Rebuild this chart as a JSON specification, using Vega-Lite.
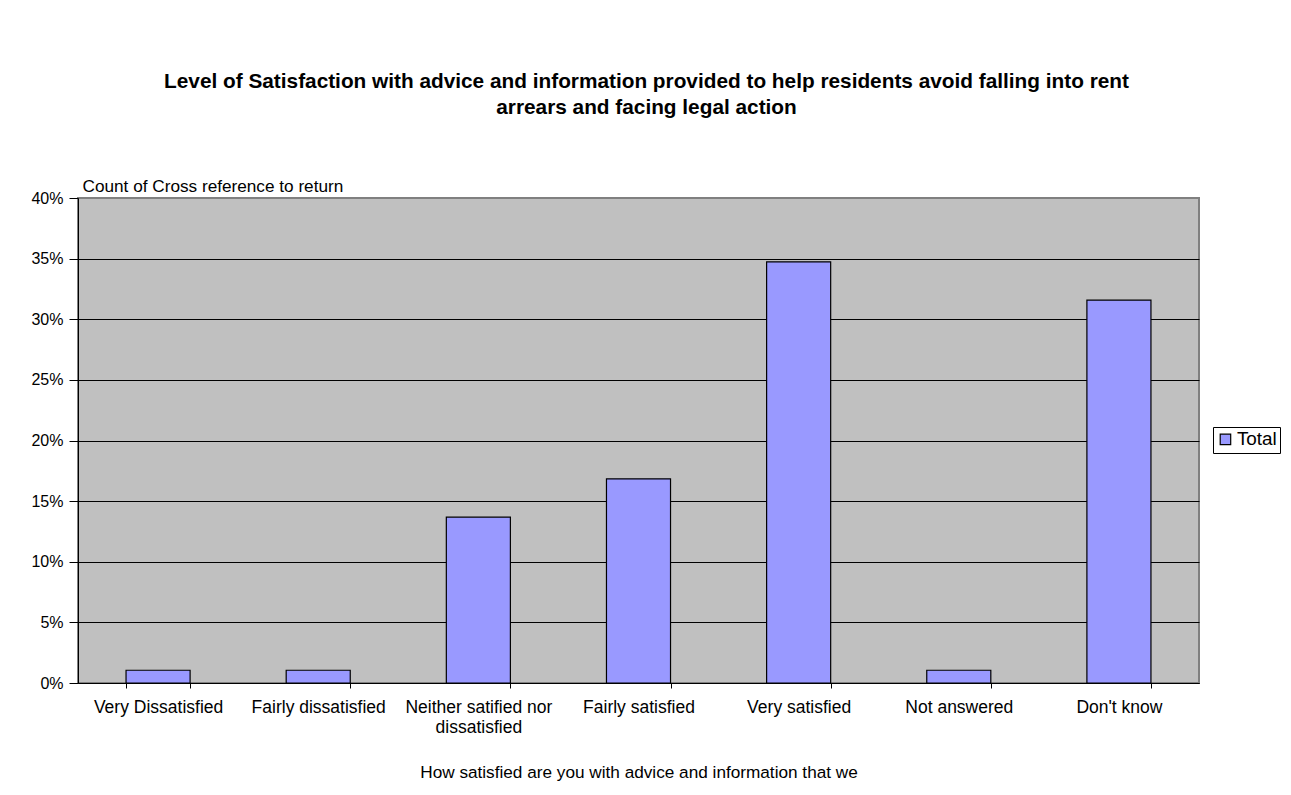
{
  "$schema": "https://vega.github.io/schema/vega-lite/v6.json",
  "width": 1121,
  "height": 485,
  "autosize": {"type": "none"},
  "padding": {"left": 78, "top": 198, "right": 92, "bottom": 112},
  "background": "white",
  "title": {
    "text": [
      "Level of Satisfaction with advice and information provided to help residents avoid falling into rent",
      "arrears and facing legal action"
    ],
    "anchor": "middle",
    "frame": "group",
    "font": "Liberation Sans",
    "fontSize": 20.8,
    "fontWeight": "bold",
    "color": "black",
    "lineHeight": 26,
    "offset": 58,
    "dx": 8
  },
  "data": {
    "values": [
      {"response": "Very Dissatisfied", "series": "Total", "share": 0.0105},
      {"response": "Fairly dissatisfied", "series": "Total", "share": 0.0105},
      {"response": "Neither satified nor dissatisfied", "series": "Total", "share": 0.1368},
      {"response": "Fairly satisfied", "series": "Total", "share": 0.1684},
      {"response": "Very satisfied", "series": "Total", "share": 0.3474},
      {"response": "Not answered", "series": "Total", "share": 0.0105},
      {"response": "Don't know", "series": "Total", "share": 0.3158}
    ]
  },
  "mark": {"type": "bar", "stroke": "black", "strokeWidth": 1.2},
  "encoding": {
    "x": {
      "field": "response",
      "type": "nominal",
      "sort": null,
      "scale": {"paddingInner": 0.6, "paddingOuter": 0.3},
      "axis": {
        "title": "How satisfied are you with advice and information that we",
        "titleFont": "Liberation Sans",
        "titleFontSize": 17.2,
        "titleFontWeight": "normal",
        "titleColor": "black",
        "titleY": 94,
        "titleBaseline": "alphabetic",
        "labelAngle": 0,
        "labelFont": "Liberation Sans",
        "labelFontSize": 17.5,
        "labelColor": "black",
        "labelPadding": 10,
        "labelLineHeight": 20,
        "labelLimit": 300,
        "labelExpr": "datum.label == 'Neither satified nor dissatisfied' ? ['Neither satified nor', 'dissatisfied'] : datum.label",
        "tickBand": "extent",
        "tickSize": 5,
        "tickColor": "black",
        "domainColor": "black",
        "grid": false
      }
    },
    "y": {
      "field": "share",
      "type": "quantitative",
      "scale": {"domain": [0, 0.4], "nice": false},
      "axis": {
        "title": "Count of Cross reference to return",
        "titleAngle": 0,
        "titleAlign": "left",
        "titleBaseline": "alphabetic",
        "titleX": 4,
        "titleY": -7,
        "titleFont": "Liberation Sans",
        "titleFontSize": 17.2,
        "titleFontWeight": "normal",
        "titleColor": "black",
        "format": ".0%",
        "values": [0, 0.05, 0.1, 0.15, 0.2, 0.25, 0.3, 0.35, 0.4],
        "labelFont": "Liberation Sans",
        "labelFontSize": 16,
        "labelColor": "black",
        "labelPadding": 6,
        "tickSize": 9,
        "tickColor": "black",
        "domainColor": "black",
        "grid": true,
        "gridColor": {"condition": {"test": "datum.value >= 0.4", "value": "#808080"}, "value": "black"},
        "gridOpacity": 1
      }
    },
    "color": {
      "field": "series",
      "type": "nominal",
      "scale": {"range": ["#9999FF"]},
      "legend": {
        "title": null,
        "orient": "none",
        "legendX": 1135,
        "legendY": 229,
        "padding": 3,
        "strokeColor": "black",
        "fillColor": "white",
        "symbolType": "square",
        "symbolSize": 110,
        "symbolStrokeColor": "black",
        "symbolStrokeWidth": 1.2,
        "symbolOpacity": 1,
        "labelFont": "Liberation Sans",
        "labelFontSize": 18.9,
        "labelColor": "black",
        "labelOffset": 2
      }
    }
  },
  "config": {
    "view": {"fill": "#C0C0C0", "stroke": "#808080", "strokeWidth": 2},
    "axis": {"domainWidth": 1, "tickWidth": 1, "gridWidth": 1}
  }
}
